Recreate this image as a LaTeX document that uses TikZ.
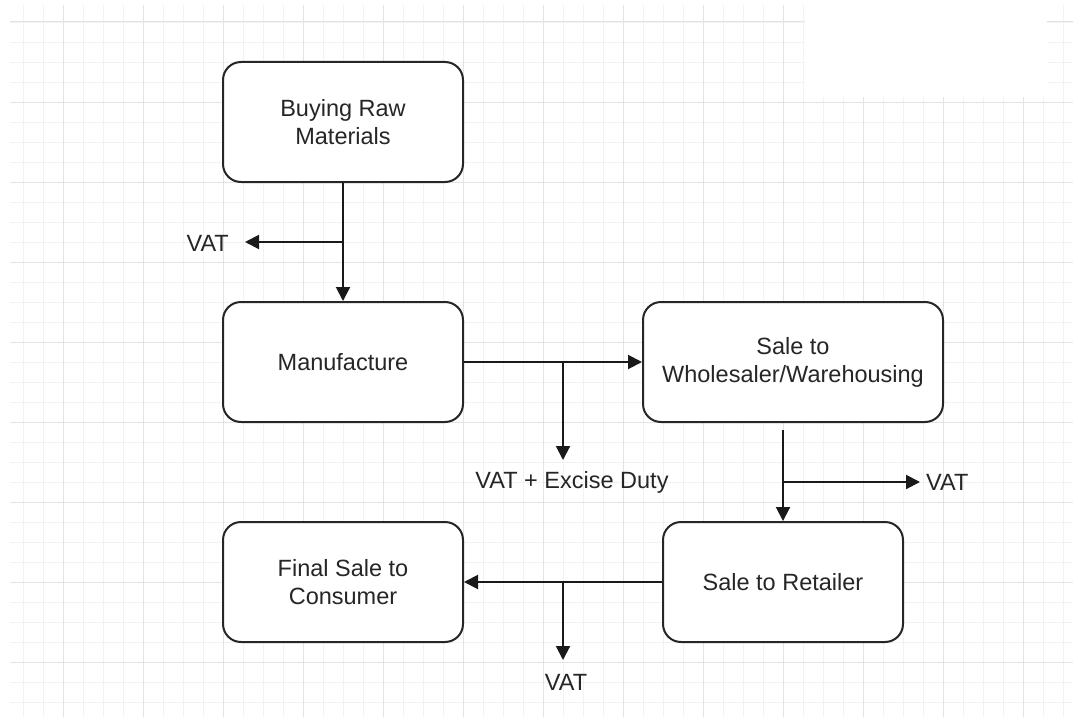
\documentclass[tikz,border=0pt]{standalone}
\usepackage{fontspec}
\setmainfont{Liberation Sans}
\usetikzlibrary{arrows.meta}
\begin{document}
\begin{tikzpicture}[x=1pt,y=-1pt,
 box/.style={draw=black!85, line width=2pt, rounded corners=18pt, minimum width=240pt, minimum height=120pt, align=center, font=\fontsize{23.5}{28}\selectfont, text=black!85, inner sep=0pt, fill=white},
 lbl/.style={font=\fontsize{23.5}{28}\selectfont, text=black!85, inner sep=0pt},
 conn/.style={draw=black!90, line width=2pt, -{Triangle[length=14pt,width=14pt]}},
 minorline/.style={black!5, line width=0.8pt},
 majorline/.style={black!11, line width=1pt}]
\useasboundingbox (0,0) rectangle (1073,717);
\fill[white] (0,0) rectangle (1073,717);
\begin{scope}
\clip (10,5) rectangle (1073,717);
\foreach \x in {23,43,...,1073} \draw[minorline] (\x,5) -- (\x,717);
\foreach \y in {22,42,...,717} \draw[minorline] (10,\y) -- (1073,\y);
\foreach \x in {63,143,...,1073} \draw[majorline] (\x,5) -- (\x,717);
\foreach \y in {22,102,...,717} \draw[majorline] (10,\y) -- (1073,\y);
\end{scope}
\fill[white] (805,5) rectangle (1047,97);

\node[box] (buy) at (343,122) {Buying Raw\\Materials};
\node[box] (man) at (343,362) {Manufacture};
\node[box, minimum width=300pt] (whl) at (793,362) {Sale to\\Wholesaler/Warehousing};
\node[box] (ret) at (783,582) {Sale to Retailer};
\node[box] (fin) at (343,582) {Final Sale to\\Consumer};

% Buying -> Manufacture with VAT branch
\draw[conn] (buy) -- (man);
\coordinate (t1) at (245,242);
\node[lbl, anchor=east] (v1) at (229,243) {VAT};
\draw[conn] (buy.south |- t1) -- (t1);

% Manufacture -> Wholesaler with VAT + Excise branch
\draw[conn] (man) -- (whl);
\coordinate (t2) at (563,460);
\node[lbl] (v2) at (572,482) {VAT + Excise Duty};
\draw[conn] (man.east -| t2) -- (t2);

% Wholesaler -> Retailer with VAT branch
\coordinate (s3) at (783,430);
\draw[conn] (s3) -- (ret);
\coordinate (t3) at (920,482);
\node[lbl, anchor=west] (v3) at (926,482) {VAT};
\draw[conn] (s3 |- t3) -- (t3);

% Retailer -> Final with VAT branch
\draw[conn] (ret) -- (fin);
\coordinate (t4) at (563,660);
\node[lbl] (v4) at (566,682) {VAT};
\draw[conn] (ret.west -| t4) -- (t4);
\end{tikzpicture}
\end{document}
